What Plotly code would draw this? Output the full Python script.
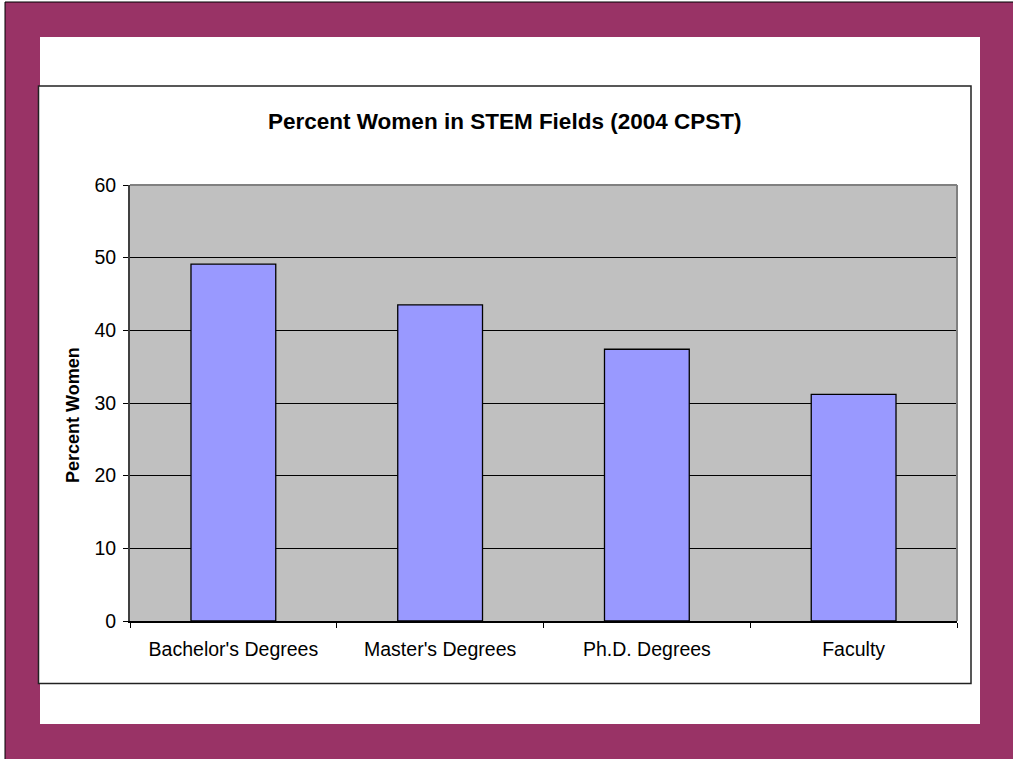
import plotly.graph_objects as go

# Percent of women at each stage of STEM (2004 CPST)
categories = ["Bachelor's Degrees", "Master's Degrees", "Ph.D. Degrees", "Faculty"]
percent_women = [49.1, 43.5, 37.4, 31.2]
y_ticks = [0, 10, 20, 30, 40, 50, 60]

W, H = 1013, 759
FONT = "Arial, Liberation Sans, sans-serif"
MAROON = "#993366"


def fx(px):
    return px / W


def fy(py):
    return 1 - py / H


def rect(x0, y0, x1, y1, fill=None, line=None, width=0, layer="below"):
    return dict(
        type="rect", xref="paper", yref="paper",
        x0=fx(x0), x1=fx(x1), y0=fy(y1), y1=fy(y0),
        fillcolor=fill if fill else "rgba(0,0,0,0)",
        line=dict(color=line if line else "rgba(0,0,0,0)", width=width),
        layer=layer,
    )


def seg(x0, y0, x1, y1, color, width, layer="below"):
    return dict(
        type="line", xref="paper", yref="paper",
        x0=fx(x0), x1=fx(x1), y0=fy(y0), y1=fy(y1),
        line=dict(color=color, width=width), layer=layer,
    )


fig = go.Figure(
    go.Bar(
        x=categories,
        y=percent_women,
        marker=dict(color="#9999FF", line=dict(color="#000000", width=1.3)),
        width=0.41,
    )
)

shapes = [
    # slide frame
    rect(0, 0, 5, H, fill="white"),
    rect(0, 0, W, 2, fill="white"),
    seg(5, 2, 5, H, "#000000", 1),
    seg(5, 2, W, 2, "#000000", 1),
    rect(40, 37, 980, 724, fill="white"),
    # chart area
    rect(38.5, 86, 971, 683.5, fill="white", line="#222222", width=1.5),
    # plot area
    rect(130, 185, 957, 621, fill="#C0C0C0"),
    seg(130, 185, 957, 185, "#808080", 2, layer="above"),
    seg(957, 185, 957, 621, "#808080", 2, layer="above"),
]

fig.update_layout(
    template="none",
    width=W,
    height=H,
    margin=dict(l=0, r=0, t=0, b=0, pad=0),
    paper_bgcolor=MAROON,
    plot_bgcolor="rgba(0,0,0,0)",
    showlegend=False,
    shapes=shapes,
    font=dict(family=FONT, size=19.5, color="#000000"),
    xaxis=dict(
        domain=[fx(130), fx(957)],
        automargin=False,
        type="category",
        range=[-0.5, 3.5],
        tickson="boundaries",
        ticks="outside",
        ticklen=5,
        tickwidth=1,
        tickcolor="#000000",
        ticklabelstandoff=10,
        showline=True,
        linecolor="#000000",
        linewidth=1.5,
        showgrid=False,
        tickfont=dict(family=FONT, size=19.5),
    ),
    yaxis=dict(
        domain=[fy(621), fy(185)],
        automargin=False,
        range=[0, 60],
        tickvals=y_ticks,
        ticks="outside",
        ticklen=5,
        tickwidth=1,
        tickcolor="#000000",
        ticklabelstandoff=3,
        showline=True,
        linecolor="#404040",
        linewidth=2,
        showgrid=True,
        gridcolor="#000000",
        gridwidth=1,
        zeroline=False,
        tickfont=dict(family=FONT, size=19.5),
    ),
    annotations=[
        dict(
            text="<b>Percent Women in STEM Fields (2004 CPST)</b>",
            xref="paper", yref="paper",
            x=fx(504), y=fy(121),
            xanchor="center", yanchor="middle",
            showarrow=False,
            font=dict(family=FONT, size=22.5),
        ),
        dict(
            text="<b>Percent Women</b>",
            xref="paper", yref="paper",
            x=fx(73), y=fy(415),
            xanchor="center", yanchor="middle",
            textangle=-90,
            showarrow=False,
            font=dict(family=FONT, size=18),
        ),
    ],
)

fig.write_html("out.html")
